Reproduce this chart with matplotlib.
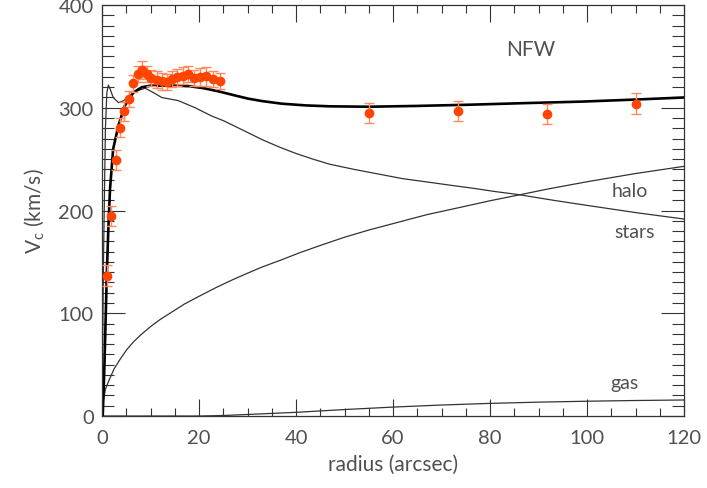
import numpy as np
import matplotlib.pyplot as plt
from matplotlib.ticker import MultipleLocator

# observed rotation curve (arcsec, km/s)
r_obs = [0.97, 1.8, 2.8, 3.7, 4.6, 5.5, 6.45, 7.36, 8.3, 9.3, 10.2, 11.3,
         12.3, 13.3, 14.4, 15.5, 16.7, 17.8, 19.0, 20.2, 21.4, 22.9, 24.3,
         55.1, 73.4, 91.75, 110.0]
v_obs = [136.5, 194.6, 249, 280.6, 296.5, 308.8, 323.8, 332.6, 337, 333, 329,
         327.3, 325.7, 325.3, 328, 329.6, 331.2, 332.6, 328.7, 330, 330.6, 328,
         326, 294.9, 297, 293.9, 304]
v_err = [10, 10, 10, 9, 9, 8, 8, 8, 9, 8, 8, 8, 8, 8, 8, 8, 8, 8, 8, 9, 9, 8, 8,
         10, 10, 10, 10]

# model components
r_tot = [0.15, 0.5, 1.0, 1.3, 1.65, 2.3, 3.4, 4.7, 6.5, 8.2, 10, 12.5, 15, 18,
         21, 24, 27.4, 30, 33, 37, 42, 47, 55, 65, 76, 87, 99, 110, 120]
v_tot = [0, 50, 140, 182, 221, 260, 283, 302, 315, 320, 321.5, 321.5, 321.5,
         321, 319, 316, 312, 309, 306.5, 304, 302.3, 301.4, 301, 301.8, 303,
         304.5, 306, 308, 310]

r_star = [0, 0.3, 0.7, 1.0, 1.3, 1.7, 2.3, 3.4, 4.5, 6, 7.5, 8.9, 10.5, 12.3,
          15.7, 19.2, 22.6, 25, 27.4, 30, 33, 36.7, 40, 43.5, 47, 52, 57, 62,
          67.6, 72, 76, 81, 86, 93, 100, 110, 120]
v_star = [0, 150, 280, 315, 322, 318, 310, 305, 307, 313, 317, 319, 315, 310,
          307, 300, 292, 287.5, 282, 276, 269, 261.5, 255.5, 250, 245, 240,
          235.5, 231, 227.4, 224.5, 222, 218.5, 215.4, 210, 205, 198, 191.7]

r_halo = [0, 0.3, 0.7, 1.2, 1.65, 2.5, 3.7, 5, 6.45, 8, 10, 12, 14, 17, 20.2,
          23.5, 27.1, 30, 33, 37, 40.8, 45, 50, 55, 61.4, 67, 73.8, 80, 85.8,
          92, 100, 110, 120]
v_halo = [0, 16, 26, 32, 37, 46, 55, 64, 72, 79, 87, 94, 100, 109, 117, 125,
          133, 139, 145, 152, 159, 166, 174, 181, 189, 196, 203, 209.5, 215,
          221, 228, 236, 243]

r_gas = [0, 20, 25, 30, 40, 50, 60, 70, 80, 90, 100, 110, 120]
v_gas = [0, 0, 0.5, 1.5, 3.6, 6.3, 8.7, 10.7, 12.3, 13.5, 14.4, 15.1, 15.6]

plt.rcParams['font.family'] = ['Lato', 'DejaVu Sans']
plt.rcParams['mathtext.default'] = 'regular'
txt = '#505050'

fig = plt.figure(figsize=(7.07, 4.89), dpi=100)
ax = fig.add_axes([0.1443, 0.1472, 0.8232, 0.8405])

ax.plot(r_halo, v_halo, color='#333333', lw=0.9)
ax.plot(r_star, v_star, color='#333333', lw=0.9)
ax.plot(r_gas, v_gas, color='#333333', lw=0.9)
ax.plot(r_tot, v_tot, color='black', lw=1.9)

ax.errorbar(r_obs, v_obs, yerr=v_err, fmt='o', color='#ff4500', ms=6,
            ecolor='#ff8a60', elinewidth=1, capsize=3.5, capthick=1, zorder=5)

ax.text(88.5, 357, 'NFW', fontsize=15, color=txt, ha='center', va='center')
ax.text(108.9, 219, 'halo', fontsize=14, color=txt, ha='center', va='center')
ax.text(109.8, 180, 'stars', fontsize=14, color=txt, ha='center', va='center')
ax.text(107.8, 33, 'gas', fontsize=14, color=txt, ha='center', va='center')

ax.set_xlim(0, 120)
ax.set_ylim(0, 400)
ax.xaxis.set_major_locator(MultipleLocator(20))
ax.xaxis.set_minor_locator(MultipleLocator(5))
ax.yaxis.set_major_locator(MultipleLocator(100))
ax.yaxis.set_minor_locator(MultipleLocator(10))

ax.tick_params(axis='both', which='both', direction='in', top=True, right=True,
               colors='#333333', labelcolor=txt, labelsize=14.5, width=0.8)
ax.tick_params(axis='x', which='major', length=12, pad=9)
ax.tick_params(axis='x', which='minor', length=6)
ax.tick_params(axis='y', which='major', length=16.5, pad=6)
ax.tick_params(axis='y', which='minor', length=8.5)
for s in ax.spines.values():
    s.set_color('#333333')
    s.set_linewidth(0.9)

ax.set_xlabel('radius (arcsec)', fontsize=15, color=txt, labelpad=6)
ax.set_ylabel('V$_c$ (km/s)', fontsize=15, color=txt, labelpad=9)

fig.savefig('out.png', dpi=100)
